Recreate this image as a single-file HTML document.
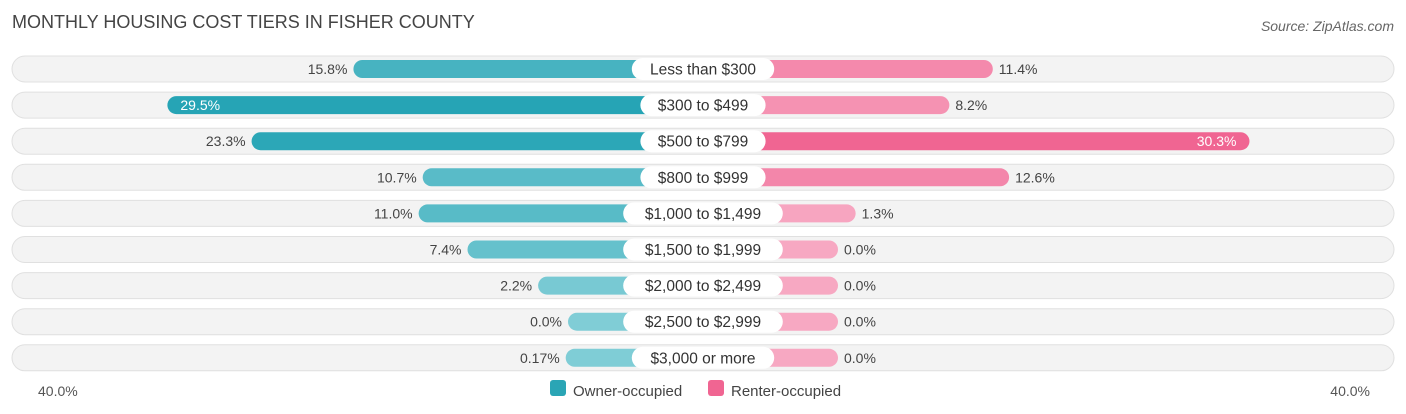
<!DOCTYPE html>
<html><head><meta charset="utf-8"><style>
body{margin:0;background:#fff;font-family:"Liberation Sans",sans-serif;}
svg{display:block}
</style></head><body>
<svg id="c" width="1406" height="414">
<text x="12" y="28" font-size="18" fill="#444">MONTHLY HOUSING COST TIERS IN FISHER COUNTY</text>
<text x="1394" y="31" font-size="14" fill="#666" font-style="italic" text-anchor="end">Source: ZipAtlas.com</text>
<text x="38" y="396" font-size="14" fill="#555">40.0%</text>
<text x="1370" y="396" font-size="14" fill="#555" text-anchor="end">40.0%</text>
<rect x="550" y="380" width="16" height="16" rx="3" fill="#2aa5b5"/>
<text x="573" y="396" font-size="15" fill="#444">Owner-occupied</text>
<rect x="708" y="380" width="16" height="16" rx="3" fill="#f06592"/>
<text x="731" y="396" font-size="15" fill="#444">Renter-occupied</text>
<g id="rows"></g>
</svg>
<script>
const categories=["Less than $300","$300 to $499","$500 to $799","$800 to $999","$1,000 to $1,499","$1,500 to $1,999","$2,000 to $2,499","$2,500 to $2,999","$3,000 or more"];
const owner=[15.8,29.5,23.3,10.7,11.0,7.4,2.2,0.0,0.17];
const renter=[11.4,8.2,30.3,12.6,1.3,0.0,0.0,0.0,0.0];
const ownerLabels=["15.8%","29.5%","23.3%","10.7%","11.0%","7.4%","2.2%","0.0%","0.17%"];
const renterLabels=["11.4%","8.2%","30.3%","12.6%","1.3%","0.0%","0.0%","0.0%","0.0%"];
const NS="http://www.w3.org/2000/svg";
const cx=703, y0=69, dy=36.1;
function w(v){return 135+13.58*v;}
function rowY(i){return y0+i*dy;}
function mix(a,b,t){const p=s=>[1,3,5].map(k=>parseInt(s.substr(k,2),16));const A=p(a),B=p(b);return "rgb("+A.map((x,k)=>Math.round(x+(B[k]-x)*t)).join(",")+")";}
const g=document.getElementById('rows');
function mk(tag,attrs,parent){const e=document.createElementNS(NS,tag);for(const k in attrs)e.setAttribute(k,attrs[k]);(parent||g).appendChild(e);return e;}
categories.forEach((c,i)=>{
  const y=rowY(i);
  const bg=mk('rect',{x:12,y:y-13,width:1382,height:26,rx:13,fill:'#f3f3f3',stroke:'#e0e0e0'});
  
  
  const ow=w(owner[i]);
  const ob=mk('rect',{x:cx-ow,y:y-9,width:ow,height:18,rx:9,fill:mix('#80cdd6','#26a4b5',Math.min(1,owner[i]/25))});
  
  
  const rw=w(renter[i]);
  const rb=mk('rect',{x:cx,y:y-9,width:rw,height:18,rx:9,fill:mix('#f7a8c2','#f06592',Math.min(1,renter[i]/25))});
  
  
  const inO=owner[i]>25, inR=renter[i]>25;
  const ot=mk('text',{x:inO?cx-ow+13:cx-ow-6,y:y+5,'font-size':14,fill:inO?'#fff':'#444','text-anchor':inO?'start':'end'});
  ot.textContent=ownerLabels[i];
  
  
  const rt=mk('text',{x:inR?cx+rw-13:cx+rw+6,y:y+5,'font-size':14,fill:inR?'#fff':'#444','text-anchor':inR?'end':'start'});
  rt.textContent=renterLabels[i];
  
  
  const lw=c.length*8.6+22;
  const lb=mk('rect',{x:cx-lw/2,y:y-11,width:lw,height:22,rx:11,fill:'#fff'});
  
  
  const lt=mk('text',{x:cx,y:y+5.5,'font-size':15.5,fill:'#333','text-anchor':'middle'});
  lt.textContent=c;
  
  
});
</script>
</body></html>
